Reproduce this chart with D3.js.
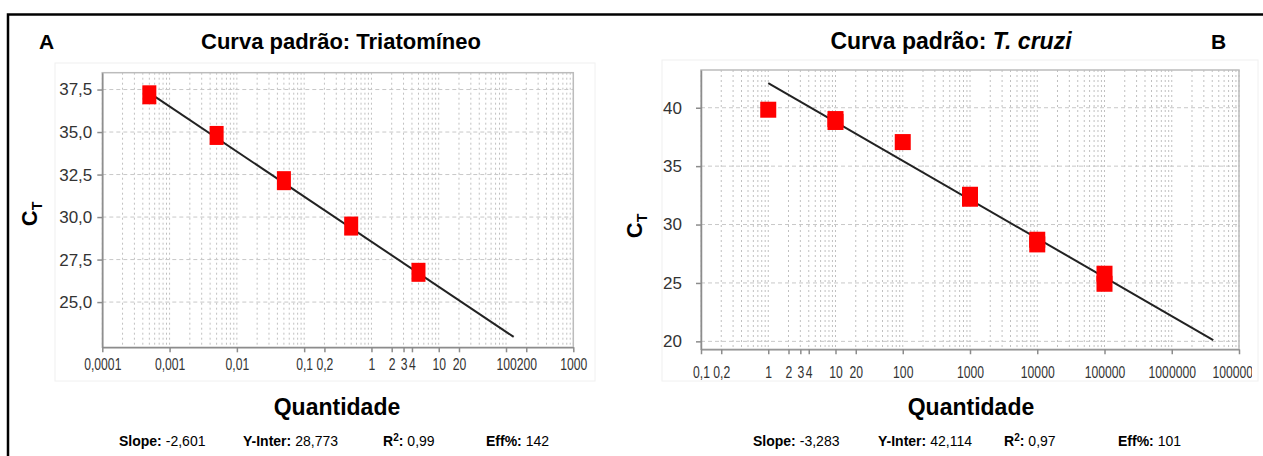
<!DOCTYPE html>
<html>
<head>
<meta charset="utf-8">
<script src="https://cdn.jsdelivr.net/npm/d3@7"></script>
<style>
  body { margin: 0; background: #fff; }
  svg { display: block; font-family: Arial, "Liberation Sans", sans-serif; }
</style>
</head>
<body>
<svg id="chart" width="1263" height="456"></svg>
<script>
// panel A - Triatomíneo
const qtyA = [0.0005, 0.005, 0.05, 0.5, 5];
const ctA = [37.19, 34.8, 32.14, 29.47, 26.75];
const fitQtyA = [0.0005, 130];
const fitCtA = [37.3, 22.95];
const xTicksA = [0.0001, 0.001, 0.01, 0.1, 0.2, 1, 2, 3, 4, 10, 20, 100, 200, 1000];
const yTicksA = [25, 27.5, 30, 32.5, 35, 37.5];
const statsA = ["-2,601", "28,773", "0,99", "142"];

// panel B - T. cruzi
const qtyB = [1, 10, 10, 100, 1000, 1000, 10000, 10000, 100000, 100000];
const ctB = [39.83, 39.03, 38.78, 37.06, 32.55, 32.21, 28.7, 28.3, 25.79, 24.93];
const fitQtyB = [1, 4140000];
const fitCtB = [42.114, 20.11];
const xTicksB = [0.1, 0.2, 1, 2, 3, 4, 10, 20, 100, 1000, 10000, 100000, 1000000, 10000000];
const yTicksB = [20, 25, 30, 35, 40];
const statsB = ["-3,283", "42,114", "0,97", "101"];

const statLabels = ["Slope:", "Y-Inter:", "R", "Eff%:"];

const comma = v => String(v).replace(".", ",");

const svg = d3.select("#chart");

// outer frame
svg.append("rect")
  .attr("x", 8).attr("y", 14.5)
  .attr("width", 1300).attr("height", 500)
  .attr("fill", "none").attr("stroke", "#000").attr("stroke-width", 2.5);

function drawPanel(p) {
  const g = svg.append("g");

  // faint container of the chart
  g.append("rect")
    .attr("x", p.box[0]).attr("y", p.box[1])
    .attr("width", p.box[2]).attr("height", p.box[3])
    .attr("fill", "none").attr("stroke", "#f0f0f0");

  const x = d3.scaleLog().domain(p.xDomain).range([p.left, p.right]);
  const y = d3.scaleLinear().domain(p.yDomain).range([p.bottom, p.top]);

  // grid
  g.append("g").selectAll("line").data(x.ticks())
    .join("line")
    .attr("x1", d => x(d)).attr("x2", d => x(d))
    .attr("y1", p.top).attr("y2", p.bottom)
    .attr("stroke", "#c0c0c0").attr("stroke-dasharray", "2,3");
  g.append("g").selectAll("line").data(p.yTicks)
    .join("line")
    .attr("x1", p.left).attr("x2", p.right)
    .attr("y1", d => y(d)).attr("y2", d => y(d))
    .attr("stroke", "#c8c8c8").attr("stroke-dasharray", "4,3");

  // plot frame
  g.append("rect")
    .attr("x", p.left).attr("y", p.top)
    .attr("width", p.right - p.left).attr("height", p.bottom - p.top)
    .attr("fill", "none").attr("stroke", "#bcbcbc").attr("stroke-width", 1.5);

  // axes
  const yAxis = g.append("g")
    .attr("transform", `translate(${p.left},0)`)
    .call(d3.axisLeft(y).tickValues(p.yTicks).tickFormat(p.yFmt)
      .tickSize(5).tickSizeOuter(0).tickPadding(p.yPad));
  yAxis.selectAll("text").attr("font-size", 17).attr("fill", "#333").attr("font-family", "Arial, sans-serif");

  const xAxis = g.append("g")
    .attr("transform", `translate(0,${p.bottom})`)
    .call(d3.axisBottom(x).tickValues(p.xTicks).tickFormat(comma)
      .tickSize(5).tickSizeOuter(0).tickPadding(p.xPad));
  // condensed look of the original labels
  xAxis.selectAll("text")
    .attr("font-size", 16).attr("fill", "#333").attr("font-family", "Arial, sans-serif")
    .attr("transform", "scale(0.76,1)");
  if (p.clipRight) {
    svg.append("clipPath").attr("id", "clip" + p.letter)
      .append("rect").attr("x", 0).attr("y", 0).attr("width", p.clipRight).attr("height", 456);
    xAxis.attr("clip-path", `url(#clip${p.letter})`);
  }
  [yAxis, xAxis].forEach(a => {
    a.selectAll(".domain").attr("stroke", "#8c8c8c").attr("stroke-width", 1.5);
    a.selectAll(".tick line").attr("stroke", "#8c8c8c").attr("stroke-width", 1.5);
  });

  // fit line
  const line = d3.line().x(d => x(d[0])).y(d => y(d[1]));
  g.append("path")
    .datum(d3.zip(p.fitQty, p.fitCt))
    .attr("d", line)
    .attr("fill", "none").attr("stroke", "#222").attr("stroke-width", 2);

  // markers
  g.append("g").selectAll("rect").data(d3.zip(p.qty, p.ct))
    .join("rect")
    .attr("x", d => x(d[0]) - p.mw / 2)
    .attr("y", d => y(d[1]) - p.mh / 2)
    .attr("width", p.mw).attr("height", p.mh)
    .attr("fill", "#ff0000");

  // letter and title
  g.append("text").attr("x", p.letterX).attr("y", 49)
    .attr("font-size", 21).attr("font-weight", "bold").text(p.letter);
  const title = g.append("text").attr("x", p.titleX).attr("y", 49)
    .attr("text-anchor", "middle").attr("font-size", p.titleSize).attr("font-weight", "bold");
  title.append("tspan").text("Curva padrão: ");
  title.append("tspan").attr("font-style", p.titleItalic ? "italic" : "normal").text(p.titleName);

  // y label C_T
  const yl = g.append("text")
    .attr("transform", `translate(${p.ylabel[0]},${p.ylabel[1]}) rotate(-90)`)
    .attr("text-anchor", "middle").attr("font-weight", "bold").attr("font-size", 22);
  yl.append("tspan").text("C");
  yl.append("tspan").attr("font-size", 14).attr("dy", 5).text("T");

  // x label
  g.append("text").attr("x", p.xlabelX).attr("y", 415)
    .attr("text-anchor", "middle").attr("font-size", 23).attr("font-weight", "bold")
    .text("Quantidade");

  // stats row
  p.stats.forEach((v, i) => {
    const t = g.append("text").attr("x", p.statX[i]).attr("y", 446).attr("font-size", 14);
    t.append("tspan").attr("font-weight", "bold").text(statLabels[i]);
    if (i === 2) {
      t.append("tspan").attr("font-weight", "bold").attr("font-size", 10).attr("dy", -5).text("2");
      t.append("tspan").attr("font-weight", "bold").attr("dy", 5).text(":");
    }
    t.append("tspan").attr("dx", 4).text(v);
  });
}

drawPanel({
  letter: "A", letterX: 39, titleX: 341, titleSize: 22, titleName: "Triatomíneo", titleItalic: false,
  box: [55, 63, 540, 318],
  left: 102.3, right: 573.3, top: 72.7, bottom: 347.3,
  xDomain: [0.0001, 1000], yDomain: [22.34, 38.49],
  xTicks: xTicksA, yTicks: yTicksA,
  yFmt: d => d3.format(".1f")(d).replace(".", ","),
  yPad: 5, xPad: 6,
  qty: qtyA, ct: ctA, fitQty: fitQtyA, fitCt: fitCtA, mw: 14, mh: 19,
  ylabel: [37, 214], xlabelX: 337,
  stats: statsA, statX: [119, 243, 383, 486]
});

drawPanel({
  letter: "B", letterX: 1211, titleX: 951, titleSize: 23, titleName: "T. cruzi", titleItalic: true,
  box: [662, 60, 596, 321],
  left: 701, right: 1239, top: 70, bottom: 349.3,
  xDomain: [0.1, 10000000], yDomain: [19.32, 43.23],
  xTicks: xTicksB, yTicks: yTicksB,
  yFmt: d => d,
  yPad: 14, xPad: 12, clipRight: 1252,
  qty: qtyB, ct: ctB, fitQty: fitQtyB, fitCt: fitCtB, mw: 16, mh: 16,
  ylabel: [642, 226], xlabelX: 971,
  stats: statsB, statX: [753, 878, 1004, 1118]
});
</script>
</body>
</html>
